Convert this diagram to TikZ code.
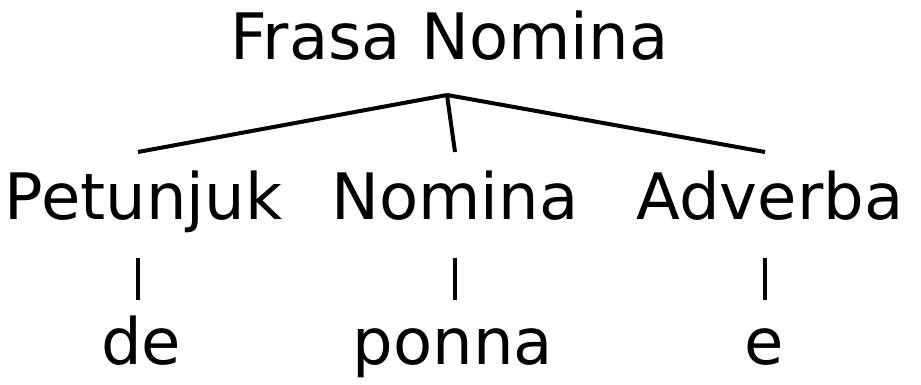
\documentclass[tikz,border=0pt]{standalone}
\usepackage{fontspec}
\setmainfont{DejaVu Sans}
\begin{document}
\begin{tikzpicture}[x=1pt,y=1pt,
  lbl/.style={anchor=base,inner sep=0pt,font=\fontsize{64}{72}\selectfont},
  edge/.style={line width=4pt}]
\useasboundingbox (0,0) rectangle (921,385);
\node[lbl] (fn) at (449.5,325) {Frasa Nomina};
\node[lbl] (pet) at (143.5,165) {Petunjuk};
\node[lbl] (nom) at (455,165) {Nomina};
\node[lbl] (adv) at (770,165) {Adverba};
\node[lbl] (de) at (141,20) {de};
\node[lbl] (ponna) at (453,20) {ponna};
\node[lbl] (e) at (764,20) {e};
\coordinate (apex) at (447,290);
\coordinate (petT) at (138,233);
\coordinate (nomT) at (455,233);
\coordinate (advT) at (765,233);
\coordinate (petB) at (138,127);
\coordinate (deT) at (138,85);
\coordinate (nomB) at (455,127);
\coordinate (ponT) at (455,85);
\coordinate (advB) at (765,127);
\coordinate (eT) at (765,85);
\draw[edge] (apex) -- (petT);
\draw[edge] (apex) -- (nomT);
\draw[edge] (apex) -- (advT);
\draw[edge] (petB) -- (deT);
\draw[edge] (nomB) -- (ponT);
\draw[edge] (advB) -- (eT);
\end{tikzpicture}
\end{document}
